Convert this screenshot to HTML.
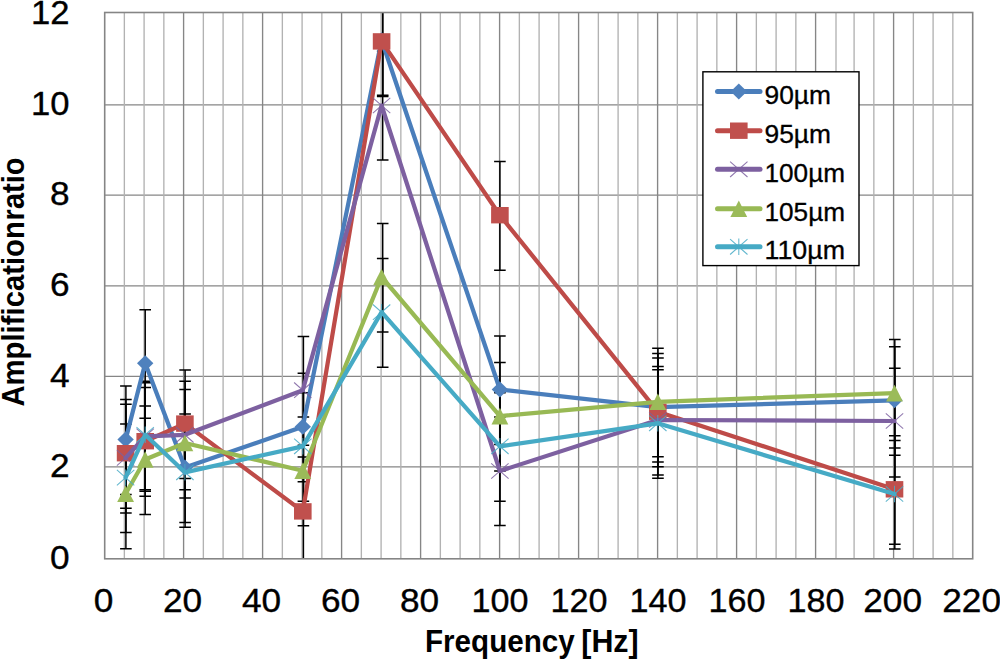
<!DOCTYPE html>
<html><head><meta charset="utf-8"><title>Chart</title>
<style>html,body{margin:0;padding:0;background:#fff;overflow:hidden}svg{display:block}</style></head>
<body>
<svg width="1000" height="659" viewBox="0 0 1000 659">
<rect width="1000" height="659" fill="#fff"/>
<line x1="104.7" y1="104.8" x2="972.7" y2="104.8" stroke="#868686" stroke-width="1.35"/>
<line x1="104.7" y1="195.1" x2="972.7" y2="195.1" stroke="#868686" stroke-width="1.35"/>
<line x1="104.7" y1="285.8" x2="972.7" y2="285.8" stroke="#868686" stroke-width="1.35"/>
<line x1="104.7" y1="376.4" x2="972.7" y2="376.4" stroke="#868686" stroke-width="1.35"/>
<line x1="104.7" y1="466.9" x2="972.7" y2="466.9" stroke="#868686" stroke-width="1.35"/>
<line x1="183.60" y1="12.5" x2="183.60" y2="558.8" stroke="#868686" stroke-width="1.35"/>
<line x1="262.60" y1="12.5" x2="262.60" y2="558.8" stroke="#868686" stroke-width="1.35"/>
<line x1="341.60" y1="12.5" x2="341.60" y2="558.8" stroke="#868686" stroke-width="1.35"/>
<line x1="420.60" y1="12.5" x2="420.60" y2="558.8" stroke="#868686" stroke-width="1.35"/>
<line x1="499.60" y1="12.5" x2="499.60" y2="558.8" stroke="#868686" stroke-width="1.35"/>
<line x1="578.60" y1="12.5" x2="578.60" y2="558.8" stroke="#868686" stroke-width="1.35"/>
<line x1="657.60" y1="12.5" x2="657.60" y2="558.8" stroke="#868686" stroke-width="1.35"/>
<line x1="736.60" y1="12.5" x2="736.60" y2="558.8" stroke="#868686" stroke-width="1.35"/>
<line x1="815.60" y1="12.5" x2="815.60" y2="558.8" stroke="#868686" stroke-width="1.35"/>
<line x1="893.60" y1="12.5" x2="893.60" y2="558.8" stroke="#868686" stroke-width="1.35"/>
<line x1="124.35" y1="12.5" x2="124.35" y2="558.8" stroke="#b2b2b2" stroke-width="1.35"/>
<line x1="144.10" y1="12.5" x2="144.10" y2="558.8" stroke="#b2b2b2" stroke-width="1.35"/>
<line x1="163.85" y1="12.5" x2="163.85" y2="558.8" stroke="#b2b2b2" stroke-width="1.35"/>
<line x1="203.35" y1="12.5" x2="203.35" y2="558.8" stroke="#b2b2b2" stroke-width="1.35"/>
<line x1="223.10" y1="12.5" x2="223.10" y2="558.8" stroke="#b2b2b2" stroke-width="1.35"/>
<line x1="242.85" y1="12.5" x2="242.85" y2="558.8" stroke="#b2b2b2" stroke-width="1.35"/>
<line x1="282.35" y1="12.5" x2="282.35" y2="558.8" stroke="#b2b2b2" stroke-width="1.35"/>
<line x1="302.10" y1="12.5" x2="302.10" y2="558.8" stroke="#b2b2b2" stroke-width="1.35"/>
<line x1="321.85" y1="12.5" x2="321.85" y2="558.8" stroke="#b2b2b2" stroke-width="1.35"/>
<line x1="361.35" y1="12.5" x2="361.35" y2="558.8" stroke="#b2b2b2" stroke-width="1.35"/>
<line x1="381.10" y1="12.5" x2="381.10" y2="558.8" stroke="#b2b2b2" stroke-width="1.35"/>
<line x1="400.85" y1="12.5" x2="400.85" y2="558.8" stroke="#b2b2b2" stroke-width="1.35"/>
<line x1="440.35" y1="12.5" x2="440.35" y2="558.8" stroke="#b2b2b2" stroke-width="1.35"/>
<line x1="460.10" y1="12.5" x2="460.10" y2="558.8" stroke="#b2b2b2" stroke-width="1.35"/>
<line x1="479.85" y1="12.5" x2="479.85" y2="558.8" stroke="#b2b2b2" stroke-width="1.35"/>
<line x1="519.35" y1="12.5" x2="519.35" y2="558.8" stroke="#b2b2b2" stroke-width="1.35"/>
<line x1="539.10" y1="12.5" x2="539.10" y2="558.8" stroke="#b2b2b2" stroke-width="1.35"/>
<line x1="558.85" y1="12.5" x2="558.85" y2="558.8" stroke="#b2b2b2" stroke-width="1.35"/>
<line x1="598.35" y1="12.5" x2="598.35" y2="558.8" stroke="#b2b2b2" stroke-width="1.35"/>
<line x1="618.10" y1="12.5" x2="618.10" y2="558.8" stroke="#b2b2b2" stroke-width="1.35"/>
<line x1="637.85" y1="12.5" x2="637.85" y2="558.8" stroke="#b2b2b2" stroke-width="1.35"/>
<line x1="677.35" y1="12.5" x2="677.35" y2="558.8" stroke="#b2b2b2" stroke-width="1.35"/>
<line x1="697.10" y1="12.5" x2="697.10" y2="558.8" stroke="#b2b2b2" stroke-width="1.35"/>
<line x1="716.85" y1="12.5" x2="716.85" y2="558.8" stroke="#b2b2b2" stroke-width="1.35"/>
<line x1="756.35" y1="12.5" x2="756.35" y2="558.8" stroke="#b2b2b2" stroke-width="1.35"/>
<line x1="776.10" y1="12.5" x2="776.10" y2="558.8" stroke="#b2b2b2" stroke-width="1.35"/>
<line x1="795.85" y1="12.5" x2="795.85" y2="558.8" stroke="#b2b2b2" stroke-width="1.35"/>
<line x1="836.00" y1="12.5" x2="836.00" y2="558.8" stroke="#b2b2b2" stroke-width="1.35"/>
<line x1="854.10" y1="12.5" x2="854.10" y2="558.8" stroke="#b2b2b2" stroke-width="1.35"/>
<line x1="873.85" y1="12.5" x2="873.85" y2="558.8" stroke="#b2b2b2" stroke-width="1.35"/>
<line x1="913.35" y1="12.5" x2="913.35" y2="558.8" stroke="#b2b2b2" stroke-width="1.35"/>
<line x1="933.10" y1="12.5" x2="933.10" y2="558.8" stroke="#b2b2b2" stroke-width="1.35"/>
<line x1="952.85" y1="12.5" x2="952.85" y2="558.8" stroke="#b2b2b2" stroke-width="1.35"/>
<clipPath id="cp"><rect x="104.7" y="12.5" width="868.00" height="546.30"/></clipPath>
<g clip-path="url(#cp)" stroke="#000" stroke-width="1.5" fill="none">
<path d="M125.90 386.00V494.60M120.10 386.00H131.70M120.10 494.60H131.70"/>
<path d="M145.20 309.70V418.30M139.40 309.70H151.00M139.40 418.30H151.00"/>
<path d="M185.10 414.00V522.60M179.30 414.00H190.90M179.30 522.60H190.90"/>
<path d="M303.40 373.20V481.80M297.60 373.20H309.20M297.60 481.80H309.20"/>
<path d="M382.70 -13.30V95.30M376.90 -13.30H388.50M376.90 95.30H388.50"/>
<path d="M499.90 335.90V444.50M494.10 335.90H505.70M494.10 444.50H505.70"/>
<path d="M657.95 353.50V462.10M652.15 353.50H663.75M652.15 462.10H663.75"/>
<path d="M894.80 346.70V455.30M889.00 346.70H900.60M889.00 455.30H900.60"/>
<path d="M125.90 399.60V508.20M120.10 399.60H131.70M120.10 508.20H131.70"/>
<path d="M145.20 387.60V496.20M139.40 387.60H151.00M139.40 496.20H151.00"/>
<path d="M185.10 370.00V478.60M179.30 370.00H190.90M179.30 478.60H190.90"/>
<path d="M303.40 457.10V565.70M297.60 457.10H309.20M297.60 565.70H309.20"/>
<path d="M382.70 -12.10V96.50M376.90 -12.10H388.50M376.90 96.50H388.50"/>
<path d="M499.90 161.60V270.20M494.10 161.60H505.70M494.10 270.20H505.70"/>
<path d="M657.95 358.10V466.70M652.15 358.10H663.75M652.15 466.70H663.75"/>
<path d="M894.80 435.70V544.30M889.00 435.70H900.60M889.00 544.30H900.60"/>
<path d="M125.90 404.30V512.90M120.10 404.30H131.70M120.10 512.90H131.70"/>
<path d="M145.20 382.70V491.30M139.40 382.70H151.00M139.40 491.30H151.00"/>
<path d="M185.10 381.20V489.80M179.30 381.20H190.90M179.30 489.80H190.90"/>
<path d="M303.40 336.60V445.20M297.60 336.60H309.20M297.60 445.20H309.20"/>
<path d="M382.70 51.30V159.90M376.90 51.30H388.50M376.90 159.90H388.50"/>
<path d="M499.90 416.90V525.50M494.10 416.90H505.70M494.10 525.50H505.70"/>
<path d="M657.95 366.40V475.00M652.15 366.40H663.75M652.15 475.00H663.75"/>
<path d="M894.80 368.30V476.90M889.00 368.30H900.60M889.00 476.90H900.60"/>
<path d="M125.90 440.10V548.70M120.10 440.10H131.70M120.10 548.70H131.70"/>
<path d="M145.20 405.90V514.50M139.40 405.90H151.00M139.40 514.50H151.00"/>
<path d="M185.10 389.40V498.00M179.30 389.40H190.90M179.30 498.00H190.90"/>
<path d="M303.40 417.10V525.70M297.60 417.10H309.20M297.60 525.70H309.20"/>
<path d="M382.70 223.40V332.00M376.90 223.40H388.50M376.90 332.00H388.50"/>
<path d="M499.90 362.50V471.10M494.10 362.50H505.70M494.10 471.10H505.70"/>
<path d="M657.95 348.20V456.80M652.15 348.20H663.75M652.15 456.80H663.75"/>
<path d="M894.80 339.50V448.10M889.00 339.50H900.60M889.00 448.10H900.60"/>
<path d="M125.90 424.00V532.60M120.10 424.00H131.70M120.10 532.60H131.70"/>
<path d="M145.20 381.20V489.80M139.40 381.20H151.00M139.40 489.80H151.00"/>
<path d="M185.10 418.70V527.30M179.30 418.70H190.90M179.30 527.30H190.90"/>
<path d="M303.40 392.70V501.30M297.60 392.70H309.20M297.60 501.30H309.20"/>
<path d="M382.70 258.60V367.20M376.90 258.60H388.50M376.90 367.20H388.50"/>
<path d="M499.90 392.70V501.30M494.10 392.70H505.70M494.10 501.30H505.70"/>
<path d="M657.95 369.70V478.30M652.15 369.70H663.75M652.15 478.30H663.75"/>
<path d="M894.80 440.40V549.00M889.00 440.40H900.60M889.00 549.00H900.60"/>
</g>
<rect x="104.7" y="12.5" width="868.00" height="546.30" fill="none" stroke="#858585" stroke-width="1.6"/>
<polyline points="125.60,439.60 145.20,363.30 184.90,467.60 302.80,426.80 381.60,40.20 499.90,389.50 657.80,407.10 894.50,400.30" fill="none" stroke="#4A7EBB" stroke-width="4.25" stroke-linejoin="round" stroke-linecap="round"/>
<path d="M125.60 431.60L133.80 439.60L125.60 447.60L117.40 439.60Z" fill="#4F81BD"/>
<path d="M145.20 355.30L153.40 363.30L145.20 371.30L137.00 363.30Z" fill="#4F81BD"/>
<path d="M184.90 459.60L193.10 467.60L184.90 475.60L176.70 467.60Z" fill="#4F81BD"/>
<path d="M302.80 418.80L311.00 426.80L302.80 434.80L294.60 426.80Z" fill="#4F81BD"/>
<path d="M381.60 32.20L389.80 40.20L381.60 48.20L373.40 40.20Z" fill="#4F81BD"/>
<path d="M499.90 381.50L508.10 389.50L499.90 397.50L491.70 389.50Z" fill="#4F81BD"/>
<path d="M657.80 399.10L666.00 407.10L657.80 415.10L649.60 407.10Z" fill="#4F81BD"/>
<path d="M894.50 392.30L902.70 400.30L894.50 408.30L886.30 400.30Z" fill="#4F81BD"/>
<polyline points="125.60,453.20 145.20,441.20 184.90,423.60 302.80,511.40 381.60,41.40 499.90,215.20 657.80,411.70 894.50,489.30" fill="none" stroke="#BE4B48" stroke-width="4.25" stroke-linejoin="round" stroke-linecap="round"/>
<rect x="116.80" y="445.00" width="17.6" height="16.4" fill="#C0504D"/>
<rect x="136.40" y="433.00" width="17.6" height="16.4" fill="#C0504D"/>
<rect x="176.10" y="415.40" width="17.6" height="16.4" fill="#C0504D"/>
<rect x="294.00" y="503.20" width="17.6" height="16.4" fill="#C0504D"/>
<rect x="372.80" y="33.20" width="17.6" height="16.4" fill="#C0504D"/>
<rect x="491.10" y="207.00" width="17.6" height="16.4" fill="#C0504D"/>
<rect x="649.00" y="403.50" width="17.6" height="16.4" fill="#C0504D"/>
<rect x="885.70" y="481.10" width="17.6" height="16.4" fill="#C0504D"/>
<polyline points="125.60,457.90 145.20,436.30 184.90,434.80 302.80,390.20 381.60,105.50 499.90,471.00 657.80,420.00 894.50,421.00" fill="none" stroke="#7D60A0" stroke-width="4.25" stroke-linejoin="round" stroke-linecap="round"/>
<path d="M116.90 450.20L134.30 465.60M116.90 465.60L134.30 450.20" stroke="#7D60A0" stroke-width="1.05" fill="none" opacity="0.85"/>
<path d="M136.50 428.60L153.90 444.00M136.50 444.00L153.90 428.60" stroke="#7D60A0" stroke-width="1.05" fill="none" opacity="0.85"/>
<path d="M176.20 427.10L193.60 442.50M176.20 442.50L193.60 427.10" stroke="#7D60A0" stroke-width="1.05" fill="none" opacity="0.85"/>
<path d="M294.10 382.50L311.50 397.90M294.10 397.90L311.50 382.50" stroke="#7D60A0" stroke-width="1.05" fill="none" opacity="0.85"/>
<path d="M372.90 97.80L390.30 113.20M372.90 113.20L390.30 97.80" stroke="#7D60A0" stroke-width="1.05" fill="none" opacity="0.85"/>
<path d="M491.20 463.30L508.60 478.70M491.20 478.70L508.60 463.30" stroke="#7D60A0" stroke-width="1.05" fill="none" opacity="0.85"/>
<path d="M649.10 412.30L666.50 427.70M649.10 427.70L666.50 412.30" stroke="#7D60A0" stroke-width="1.05" fill="none" opacity="0.85"/>
<path d="M885.80 413.30L903.20 428.70M885.80 428.70L903.20 413.30" stroke="#7D60A0" stroke-width="1.05" fill="none" opacity="0.85"/>
<polyline points="125.60,493.70 145.20,459.50 184.90,443.00 302.80,470.70 381.60,277.00 499.90,416.10 657.80,401.80 894.50,393.10" fill="none" stroke="#98B954" stroke-width="4.25" stroke-linejoin="round" stroke-linecap="round"/>
<path d="M125.60 485.40L134.00 502.00L117.20 502.00Z" fill="#9BBB59"/>
<path d="M145.20 451.20L153.60 467.80L136.80 467.80Z" fill="#9BBB59"/>
<path d="M184.90 434.70L193.30 451.30L176.50 451.30Z" fill="#9BBB59"/>
<path d="M302.80 462.40L311.20 479.00L294.40 479.00Z" fill="#9BBB59"/>
<path d="M381.60 268.70L390.00 285.30L373.20 285.30Z" fill="#9BBB59"/>
<path d="M499.90 407.80L508.30 424.40L491.50 424.40Z" fill="#9BBB59"/>
<path d="M657.80 393.50L666.20 410.10L649.40 410.10Z" fill="#9BBB59"/>
<path d="M894.50 384.80L902.90 401.40L886.10 401.40Z" fill="#9BBB59"/>
<polyline points="125.60,477.60 145.20,434.80 184.90,472.30 302.80,446.30 381.60,312.20 499.90,446.30 657.80,423.30 894.50,494.00" fill="none" stroke="#46AAC5" stroke-width="4.25" stroke-linejoin="round" stroke-linecap="round"/>
<path d="M116.90 469.90L134.30 485.30M116.90 485.30L134.30 469.90M125.60 469.40V485.80" stroke="#46AAC5" stroke-width="1.05" fill="none" opacity="0.85"/>
<path d="M136.50 427.10L153.90 442.50M136.50 442.50L153.90 427.10M145.20 426.60V443.00" stroke="#46AAC5" stroke-width="1.05" fill="none" opacity="0.85"/>
<path d="M176.20 464.60L193.60 480.00M176.20 480.00L193.60 464.60M184.90 464.10V480.50" stroke="#46AAC5" stroke-width="1.05" fill="none" opacity="0.85"/>
<path d="M294.10 438.60L311.50 454.00M294.10 454.00L311.50 438.60M302.80 438.10V454.50" stroke="#46AAC5" stroke-width="1.05" fill="none" opacity="0.85"/>
<path d="M372.90 304.50L390.30 319.90M372.90 319.90L390.30 304.50M381.60 304.00V320.40" stroke="#46AAC5" stroke-width="1.05" fill="none" opacity="0.85"/>
<path d="M491.20 438.60L508.60 454.00M491.20 454.00L508.60 438.60M499.90 438.10V454.50" stroke="#46AAC5" stroke-width="1.05" fill="none" opacity="0.85"/>
<path d="M649.10 415.60L666.50 431.00M649.10 431.00L666.50 415.60M657.80 415.10V431.50" stroke="#46AAC5" stroke-width="1.05" fill="none" opacity="0.85"/>
<path d="M885.80 486.30L903.20 501.70M885.80 501.70L903.20 486.30M894.50 485.80V502.20" stroke="#46AAC5" stroke-width="1.05" fill="none" opacity="0.85"/>
<rect x="702.9" y="71.8" width="156.10000000000002" height="193.8" fill="#fff" stroke="#000" stroke-width="1.4"/>
<line x1="717.5" y1="91.5" x2="760" y2="91.5" stroke="#4A7EBB" stroke-width="5" stroke-linecap="round"/>
<path d="M738.80 83.50L747.00 91.50L738.80 99.50L730.60 91.50Z" fill="#4F81BD"/>
<text x="764.5" y="104.1" font-family="Liberation Sans, sans-serif" font-size="25.3" stroke="#000" stroke-width="0.3" textLength="66.5" lengthAdjust="spacingAndGlyphs">90µm</text>
<line x1="717.5" y1="130.7" x2="760" y2="130.7" stroke="#BE4B48" stroke-width="5" stroke-linecap="round"/>
<rect x="730.00" y="122.50" width="17.6" height="16.4" fill="#C0504D"/>
<text x="764.5" y="143.3" font-family="Liberation Sans, sans-serif" font-size="25.3" stroke="#000" stroke-width="0.3" textLength="66.5" lengthAdjust="spacingAndGlyphs">95µm</text>
<line x1="717.5" y1="169.3" x2="760" y2="169.3" stroke="#7D60A0" stroke-width="5" stroke-linecap="round"/>
<path d="M730.10 161.60L747.50 177.00M730.10 177.00L747.50 161.60" stroke="#7D60A0" stroke-width="1.05" fill="none" opacity="0.85"/>
<text x="764.5" y="181.9" font-family="Liberation Sans, sans-serif" font-size="25.3" stroke="#000" stroke-width="0.3" textLength="80.5" lengthAdjust="spacingAndGlyphs">100µm</text>
<line x1="717.5" y1="208.7" x2="760" y2="208.7" stroke="#98B954" stroke-width="5" stroke-linecap="round"/>
<path d="M738.80 200.40L747.20 217.00L730.40 217.00Z" fill="#9BBB59"/>
<text x="764.5" y="221.3" font-family="Liberation Sans, sans-serif" font-size="25.3" stroke="#000" stroke-width="0.3" textLength="80.5" lengthAdjust="spacingAndGlyphs">105µm</text>
<line x1="717.5" y1="246.8" x2="760" y2="246.8" stroke="#46AAC5" stroke-width="5" stroke-linecap="round"/>
<path d="M730.10 239.10L747.50 254.50M730.10 254.50L747.50 239.10M738.80 238.60V255.00" stroke="#46AAC5" stroke-width="1.05" fill="none" opacity="0.85"/>
<text x="764.5" y="259.4" font-family="Liberation Sans, sans-serif" font-size="25.3" stroke="#000" stroke-width="0.3" textLength="80.5" lengthAdjust="spacingAndGlyphs">110µm</text>
<text x="31.1" y="23.6" font-family="Liberation Sans, sans-serif" font-size="33.5" stroke="#000" stroke-width="0.35" textLength="38.5" lengthAdjust="spacingAndGlyphs">12</text>
<text x="31.1" y="115.1" font-family="Liberation Sans, sans-serif" font-size="33.5" stroke="#000" stroke-width="0.35" textLength="38.5" lengthAdjust="spacingAndGlyphs">10</text>
<text x="50.0" y="205.4" font-family="Liberation Sans, sans-serif" font-size="33.5" stroke="#000" stroke-width="0.35" textLength="19.6" lengthAdjust="spacingAndGlyphs">8</text>
<text x="50.0" y="296.1" font-family="Liberation Sans, sans-serif" font-size="33.5" stroke="#000" stroke-width="0.35" textLength="19.6" lengthAdjust="spacingAndGlyphs">6</text>
<text x="50.0" y="386.7" font-family="Liberation Sans, sans-serif" font-size="33.5" stroke="#000" stroke-width="0.35" textLength="19.6" lengthAdjust="spacingAndGlyphs">4</text>
<text x="50.0" y="477.2" font-family="Liberation Sans, sans-serif" font-size="33.5" stroke="#000" stroke-width="0.35" textLength="19.6" lengthAdjust="spacingAndGlyphs">2</text>
<text x="50.0" y="569.1" font-family="Liberation Sans, sans-serif" font-size="33.5" stroke="#000" stroke-width="0.35" textLength="19.6" lengthAdjust="spacingAndGlyphs">0</text>
<text x="93.8" y="612.3" font-family="Liberation Sans, sans-serif" font-size="33.5" stroke="#000" stroke-width="0.35" textLength="19.6" lengthAdjust="spacingAndGlyphs">0</text>
<text x="163.0" y="612.3" font-family="Liberation Sans, sans-serif" font-size="33.5" stroke="#000" stroke-width="0.35" textLength="39.2" lengthAdjust="spacingAndGlyphs">20</text>
<text x="242.0" y="612.3" font-family="Liberation Sans, sans-serif" font-size="33.5" stroke="#000" stroke-width="0.35" textLength="39.2" lengthAdjust="spacingAndGlyphs">40</text>
<text x="321.0" y="612.3" font-family="Liberation Sans, sans-serif" font-size="33.5" stroke="#000" stroke-width="0.35" textLength="39.2" lengthAdjust="spacingAndGlyphs">60</text>
<text x="400.0" y="612.3" font-family="Liberation Sans, sans-serif" font-size="33.5" stroke="#000" stroke-width="0.35" textLength="39.2" lengthAdjust="spacingAndGlyphs">80</text>
<text x="471.4" y="612.3" font-family="Liberation Sans, sans-serif" font-size="33.5" stroke="#000" stroke-width="0.35" textLength="57.0" lengthAdjust="spacingAndGlyphs">100</text>
<text x="550.4" y="612.3" font-family="Liberation Sans, sans-serif" font-size="33.5" stroke="#000" stroke-width="0.35" textLength="57.0" lengthAdjust="spacingAndGlyphs">120</text>
<text x="629.4" y="612.3" font-family="Liberation Sans, sans-serif" font-size="33.5" stroke="#000" stroke-width="0.35" textLength="57.0" lengthAdjust="spacingAndGlyphs">140</text>
<text x="708.4" y="612.3" font-family="Liberation Sans, sans-serif" font-size="33.5" stroke="#000" stroke-width="0.35" textLength="57.0" lengthAdjust="spacingAndGlyphs">160</text>
<text x="787.4" y="612.3" font-family="Liberation Sans, sans-serif" font-size="33.5" stroke="#000" stroke-width="0.35" textLength="57.0" lengthAdjust="spacingAndGlyphs">180</text>
<text x="863.2" y="612.3" font-family="Liberation Sans, sans-serif" font-size="33.5" stroke="#000" stroke-width="0.35" textLength="58.8" lengthAdjust="spacingAndGlyphs">200</text>
<text x="942.2" y="612.3" font-family="Liberation Sans, sans-serif" font-size="33.5" stroke="#000" stroke-width="0.35" textLength="58.8" lengthAdjust="spacingAndGlyphs">220</text>
<text x="425.0" y="651.5" font-family="Liberation Sans, sans-serif" font-size="31" font-weight="bold" lengthAdjust="spacingAndGlyphs" textLength="149.7">Frequency</text>
<text x="581.3" y="651.5" font-family="Liberation Sans, sans-serif" font-size="31" font-weight="bold" lengthAdjust="spacingAndGlyphs" textLength="57.4">[Hz]</text>
<text transform="translate(24.2,406.6) rotate(-90)" font-family="Liberation Sans, sans-serif" font-size="31" font-weight="bold" lengthAdjust="spacingAndGlyphs" textLength="185.5">Amplification</text>
<text transform="translate(24.2,220.4) rotate(-90)" font-family="Liberation Sans, sans-serif" font-size="31" font-weight="bold" lengthAdjust="spacingAndGlyphs" textLength="63">ratio</text>
</svg>
</body></html>
